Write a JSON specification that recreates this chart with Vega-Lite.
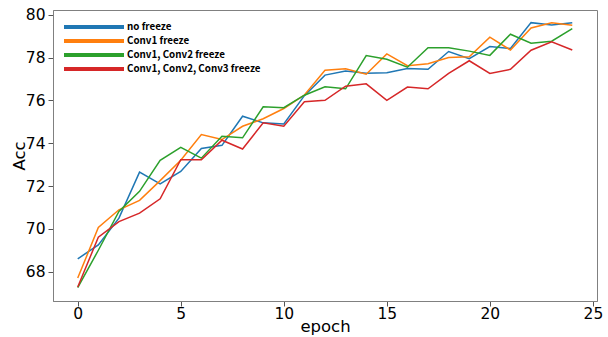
{
  "$schema": "https://vega.github.io/schema/vega-lite/v6.json",
  "width": 544,
  "height": 291,
  "autosize": {"type": "none"},
  "padding": {"left": 53, "top": 10, "right": 11, "bottom": 36},
  "background": "white",
  "config": {
    "view": {"stroke": "#808080", "strokeWidth": 1},
    "axis": {"labelFont": "DejaVu Sans", "titleFont": "DejaVu Sans", "labelColor": "#000", "titleColor": "#000", "titleFontWeight": "normal", "grid": false, "domainColor": "#808080", "tickColor": "#555", "tickSize": 5, "labelPadding": 3}
  },
  "data": {"values": [
    {"epoch":0,"series":"no freeze","acc":68.6},{"epoch":0,"series":"Conv1 freeze","acc":67.7},{"epoch":0,"series":"Conv1, Conv2 freeze","acc":67.25},{"epoch":0,"series":"Conv1, Conv2, Conv3 freeze","acc":67.28},
    {"epoch":1,"series":"no freeze","acc":69.25},{"epoch":1,"series":"Conv1 freeze","acc":70.06},{"epoch":1,"series":"Conv1, Conv2 freeze","acc":69.0},{"epoch":1,"series":"Conv1, Conv2, Conv3 freeze","acc":69.61},
    {"epoch":2,"series":"no freeze","acc":70.5},{"epoch":2,"series":"Conv1 freeze","acc":70.89},{"epoch":2,"series":"Conv1, Conv2 freeze","acc":70.81},{"epoch":2,"series":"Conv1, Conv2, Conv3 freeze","acc":70.34},
    {"epoch":3,"series":"no freeze","acc":72.65},{"epoch":3,"series":"Conv1 freeze","acc":71.33},{"epoch":3,"series":"Conv1, Conv2 freeze","acc":71.75},{"epoch":3,"series":"Conv1, Conv2, Conv3 freeze","acc":70.73},
    {"epoch":4,"series":"no freeze","acc":72.1},{"epoch":4,"series":"Conv1 freeze","acc":72.25},{"epoch":4,"series":"Conv1, Conv2 freeze","acc":73.2},{"epoch":4,"series":"Conv1, Conv2, Conv3 freeze","acc":71.4},
    {"epoch":5,"series":"no freeze","acc":72.68},{"epoch":5,"series":"Conv1 freeze","acc":73.2},{"epoch":5,"series":"Conv1, Conv2 freeze","acc":73.81},{"epoch":5,"series":"Conv1, Conv2, Conv3 freeze","acc":73.23},
    {"epoch":6,"series":"no freeze","acc":73.75},{"epoch":6,"series":"Conv1 freeze","acc":74.4},{"epoch":6,"series":"Conv1, Conv2 freeze","acc":73.3},{"epoch":6,"series":"Conv1, Conv2, Conv3 freeze","acc":73.23},
    {"epoch":7,"series":"no freeze","acc":73.9},{"epoch":7,"series":"Conv1 freeze","acc":74.17},{"epoch":7,"series":"Conv1, Conv2 freeze","acc":74.32},{"epoch":7,"series":"Conv1, Conv2, Conv3 freeze","acc":74.14},
    {"epoch":8,"series":"no freeze","acc":75.26},{"epoch":8,"series":"Conv1 freeze","acc":74.79},{"epoch":8,"series":"Conv1, Conv2 freeze","acc":74.25},{"epoch":8,"series":"Conv1, Conv2, Conv3 freeze","acc":73.73},
    {"epoch":9,"series":"no freeze","acc":74.95},{"epoch":9,"series":"Conv1 freeze","acc":75.14},{"epoch":9,"series":"Conv1, Conv2 freeze","acc":75.7},{"epoch":9,"series":"Conv1, Conv2, Conv3 freeze","acc":74.95},
    {"epoch":10,"series":"no freeze","acc":74.9},{"epoch":10,"series":"Conv1 freeze","acc":75.62},{"epoch":10,"series":"Conv1, Conv2 freeze","acc":75.66},{"epoch":10,"series":"Conv1, Conv2, Conv3 freeze","acc":74.79},
    {"epoch":11,"series":"no freeze","acc":76.22},{"epoch":11,"series":"Conv1 freeze","acc":76.25},{"epoch":11,"series":"Conv1, Conv2 freeze","acc":76.24},{"epoch":11,"series":"Conv1, Conv2, Conv3 freeze","acc":75.94},
    {"epoch":12,"series":"no freeze","acc":77.18},{"epoch":12,"series":"Conv1 freeze","acc":77.41},{"epoch":12,"series":"Conv1, Conv2 freeze","acc":76.63},{"epoch":12,"series":"Conv1, Conv2, Conv3 freeze","acc":76.0},
    {"epoch":13,"series":"no freeze","acc":77.37},{"epoch":13,"series":"Conv1 freeze","acc":77.48},{"epoch":13,"series":"Conv1, Conv2 freeze","acc":76.54},{"epoch":13,"series":"Conv1, Conv2, Conv3 freeze","acc":76.66},
    {"epoch":14,"series":"no freeze","acc":77.27},{"epoch":14,"series":"Conv1 freeze","acc":77.22},{"epoch":14,"series":"Conv1, Conv2 freeze","acc":78.09},{"epoch":14,"series":"Conv1, Conv2, Conv3 freeze","acc":76.77},
    {"epoch":15,"series":"no freeze","acc":77.29},{"epoch":15,"series":"Conv1 freeze","acc":78.17},{"epoch":15,"series":"Conv1, Conv2 freeze","acc":77.92},{"epoch":15,"series":"Conv1, Conv2, Conv3 freeze","acc":76.0},
    {"epoch":16,"series":"no freeze","acc":77.49},{"epoch":16,"series":"Conv1 freeze","acc":77.62},{"epoch":16,"series":"Conv1, Conv2 freeze","acc":77.55},{"epoch":16,"series":"Conv1, Conv2, Conv3 freeze","acc":76.62},
    {"epoch":17,"series":"no freeze","acc":77.45},{"epoch":17,"series":"Conv1 freeze","acc":77.71},{"epoch":17,"series":"Conv1, Conv2 freeze","acc":78.46},{"epoch":17,"series":"Conv1, Conv2, Conv3 freeze","acc":76.54},
    {"epoch":18,"series":"no freeze","acc":78.28},{"epoch":18,"series":"Conv1 freeze","acc":78.0},{"epoch":18,"series":"Conv1, Conv2 freeze","acc":78.46},{"epoch":18,"series":"Conv1, Conv2, Conv3 freeze","acc":77.26},
    {"epoch":19,"series":"no freeze","acc":77.95},{"epoch":19,"series":"Conv1 freeze","acc":78.04},{"epoch":19,"series":"Conv1, Conv2 freeze","acc":78.3},{"epoch":19,"series":"Conv1, Conv2, Conv3 freeze","acc":77.85},
    {"epoch":20,"series":"no freeze","acc":78.51},{"epoch":20,"series":"Conv1 freeze","acc":78.95},{"epoch":20,"series":"Conv1, Conv2 freeze","acc":78.1},{"epoch":20,"series":"Conv1, Conv2, Conv3 freeze","acc":77.26},
    {"epoch":21,"series":"no freeze","acc":78.42},{"epoch":21,"series":"Conv1 freeze","acc":78.35},{"epoch":21,"series":"Conv1, Conv2 freeze","acc":79.09},{"epoch":21,"series":"Conv1, Conv2, Conv3 freeze","acc":77.45},
    {"epoch":22,"series":"no freeze","acc":79.63},{"epoch":22,"series":"Conv1 freeze","acc":79.38},{"epoch":22,"series":"Conv1, Conv2 freeze","acc":78.67},{"epoch":22,"series":"Conv1, Conv2, Conv3 freeze","acc":78.34},
    {"epoch":23,"series":"no freeze","acc":79.52},{"epoch":23,"series":"Conv1 freeze","acc":79.62},{"epoch":23,"series":"Conv1, Conv2 freeze","acc":78.76},{"epoch":23,"series":"Conv1, Conv2, Conv3 freeze","acc":78.74},
    {"epoch":24,"series":"no freeze","acc":79.63},{"epoch":24,"series":"Conv1 freeze","acc":79.51},{"epoch":24,"series":"Conv1, Conv2 freeze","acc":79.35},{"epoch":24,"series":"Conv1, Conv2, Conv3 freeze","acc":78.35}
  ]},
  "mark": {"type": "line", "strokeWidth": 1.5},
  "encoding": {
    "x": {"field": "epoch", "type": "quantitative",
      "scale": {"domain": [-1.2, 25.2], "nice": false, "zero": false},
      "axis": {"values": [0, 5, 10, 15, 20, 25], "title": "epoch", "labelFontSize": 15.5, "titleFontSize": 16.5, "titlePadding": -3, "labelPadding": 0}},
    "y": {"field": "acc", "type": "quantitative",
      "scale": {"domain": [66.63, 80.22], "nice": false, "zero": false},
      "axis": {"values": [68, 70, 72, 74, 76, 78, 80], "title": "Acc", "labelFontSize": 15.5, "titleFontSize": 16.5, "titlePadding": -2}},
    "color": {"field": "series", "type": "nominal",
      "scale": {"domain": ["no freeze", "Conv1 freeze", "Conv1, Conv2 freeze", "Conv1, Conv2, Conv3 freeze"],
                "range": ["#1f77b4", "#ff7f0e", "#2ca02c", "#d62728"]},
      "legend": {"title": null, "orient": "none", "legendX": 35, "legendY": 11,
        "symbolType": "M-7.5,0H7.5", "symbolSize": 64, "symbolStrokeWidth": 4,
        "labelOffset": 27, "rowPadding": -3.6, "padding": 0,
        "labelFont": "Noto Sans CJK KR", "labelFontWeight": "bold", "labelFontSize": 9.8, "labelColor": "#000"}}
  }
}
